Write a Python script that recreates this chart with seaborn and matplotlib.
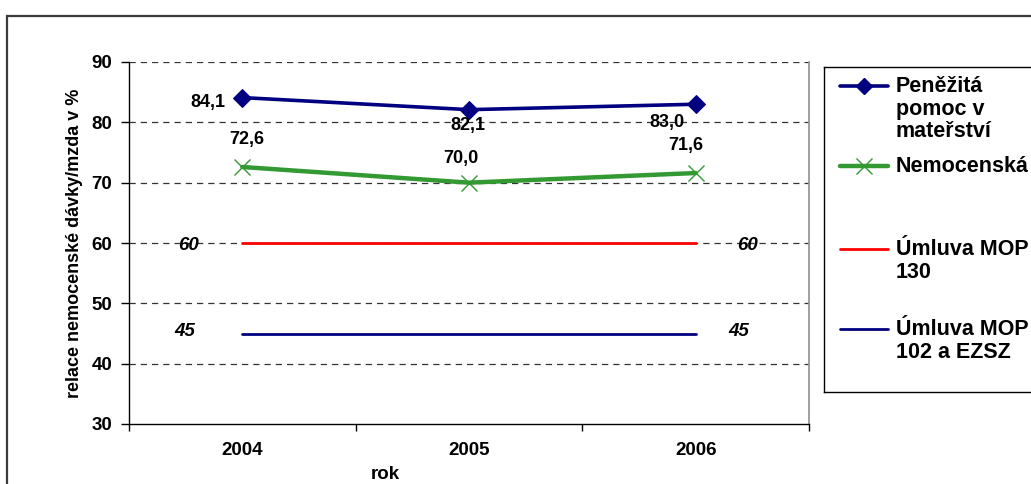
import matplotlib
matplotlib.use("Agg")
import matplotlib.pyplot as plt
from matplotlib.patches import Rectangle
from matplotlib.lines import Line2D
from matplotlib.ticker import FixedLocator
import seaborn as sns
import pandas as pd

# ---- data ----
years = ["2004", "2005", "2006"]
penezita_pomoc = [84.1, 82.1, 83.0]
nemocenska = [72.6, 70.0, 71.6]
umluva_130 = [60, 60, 60]
umluva_102 = [45, 45, 45]
y_ticks = [30, 40, 50, 60, 70, 80, 90]
legend_labels = ["Peněžitá\npomoc v\nmateřství", "Nemocenská",
                 "Úmluva MOP\n130", "Úmluva MOP\n102 a EZSZ"]

sns.set_theme(style="white")
plt.rcParams["font.family"] = ["Liberation Sans", "DejaVu Sans"]
plt.rcParams["font.weight"] = "bold"
for key in ["text.color", "axes.labelcolor", "xtick.color", "ytick.color"]:
    plt.rcParams[key] = "black"

W, H = 1031, 484
fig = plt.figure(figsize=(W / 100, H / 100), dpi=100)
fig.patch.set_facecolor("white")

# outer chart frame
fig.patches.append(Rectangle((7 / W, -0.2), 1.3, (H - 16) / H + 0.2,
                             transform=fig.transFigure, fill=False,
                             ec="#3a3a3a", lw=1.6, zorder=0))

ax = fig.add_axes([129 / W, (H - 424) / H, (809 - 129) / W, (424 - 62) / H])
ax.set_facecolor("white")

NAVY = "#000080"
GREEN = "#339933"
RED = "#FF0000"

df = pd.DataFrame({"rok": years, "pen": penezita_pomoc, "nem": nemocenska,
                   "m130": umluva_130, "m102": umluva_102})

sns.lineplot(data=df, x="rok", y="m130", ax=ax, color=RED, lw=2.0, zorder=3)
sns.lineplot(data=df, x="rok", y="m102", ax=ax, color=NAVY, lw=2.0, zorder=3)
sns.lineplot(data=df, x="rok", y="nem", ax=ax, color=GREEN, lw=3.2,
             marker="x", markersize=12, markeredgewidth=1.0,
             markeredgecolor=GREEN, zorder=4)
sns.lineplot(data=df, x="rok", y="pen", ax=ax, color=NAVY, lw=2.6,
             marker="D", markersize=9, markeredgecolor=NAVY, zorder=5)

ax.set_xlim(-0.5, 2.5)
ax.set_ylim(30, 90)
ax.set_yticks(y_ticks)
ax.set_xticks(range(len(years)))
ax.set_xticklabels(years)
ax.xaxis.set_minor_locator(FixedLocator([-0.5, 0.5, 1.5, 2.5]))

ax.tick_params(axis="x", which="major", length=0, labelsize=13.5, pad=13,
               colors="black")
ax.tick_params(axis="x", which="minor", length=5, width=1, direction="out",
               color="black", bottom=True)
ax.tick_params(axis="y", length=6, width=1, direction="out", color="black",
               labelsize=13.5, pad=6, left=True)
for lab in ax.get_xticklabels() + ax.get_yticklabels():
    lab.set_fontweight("bold")

# dashed horizontal grid
for v in y_ticks[1:]:
    ax.axhline(v, color="#333333", lw=0.9, ls=(0, (5, 4)), zorder=1)

for side in ["left", "bottom"]:
    ax.spines[side].set_color("black")
    ax.spines[side].set_linewidth(1.0)
ax.spines["right"].set_color("#909090")
ax.spines["right"].set_linewidth(1.2)
ax.spines["top"].set_visible(False)

ax.set_ylabel("relace nemocenské dávky/mzda v %", fontsize=13,
              fontweight="bold", labelpad=6)
ax.set_xlabel("rok", fontsize=13.5, fontweight="bold")
ax.xaxis.set_label_coords(0.377, -0.115)


def fmt(v):
    return f"{v:.1f}".replace(".", ",")


label_kw = dict(textcoords="offset pixels", ha="center", va="center",
                fontsize=13, fontweight="bold", color="black", zorder=6)

pen_off = [(-34, -5), (-1, -16), (-29, -18)]
nem_off = [(4, 27), (-8, 24), (-10, 28)]
for i, v in enumerate(penezita_pomoc):
    ax.annotate(fmt(v), xy=(i, v), xytext=pen_off[i], **label_kw)
for i, v in enumerate(nemocenska):
    ax.annotate(fmt(v), xy=(i, v), xytext=nem_off[i], **label_kw)

ital = dict(label_kw, fontstyle="italic", fontsize=13.5)
ax.annotate(str(umluva_130[0]), xy=(0, umluva_130[0]), xytext=(-54, -3), **ital)
ax.annotate(str(umluva_130[-1]), xy=(2, umluva_130[-1]), xytext=(52, -2), **ital)
ax.annotate(str(umluva_102[0]), xy=(0, umluva_102[0]), xytext=(-58, 2), **ital)
ax.annotate(str(umluva_102[-1]), xy=(2, umluva_102[-1]), xytext=(43, 2), **ital)

# legend panel
lax = fig.add_axes([824 / W, (H - 392) / H, 0.3, (392 - 67) / H])
lax.set_xlim(824, 824 + 0.3 * W)
lax.set_ylim(392, 67)
lax.set_xticks([])
lax.set_yticks([])
for s in lax.spines.values():
    s.set_color("black")
    s.set_linewidth(1.0)

styles = [
    dict(color=NAVY, lw=2.6, marker="D", markersize=8),
    dict(color=GREEN, lw=3.2, marker="x", markersize=11, markeredgewidth=1.0),
    dict(color=RED, lw=2.0),
    dict(color=NAVY, lw=2.0),
]
entry_y = [86, 166, 249, 329]
for lbl, st, yy in zip(legend_labels, styles, entry_y):
    lax.add_line(Line2D([840, 888], [yy, yy], color=st["color"], lw=st["lw"]))
    if "marker" in st:
        lax.add_line(Line2D([864], [yy], color=st["color"], marker=st["marker"],
                            markersize=st["markersize"],
                            markeredgewidth=st.get("markeredgewidth", 1.0),
                            lw=0))
    lax.text(896, yy - 10, lbl, ha="left", va="top", fontsize=15.5,
             fontweight="bold", linespacing=1.1)

fig.savefig("out.png", dpi=100)
